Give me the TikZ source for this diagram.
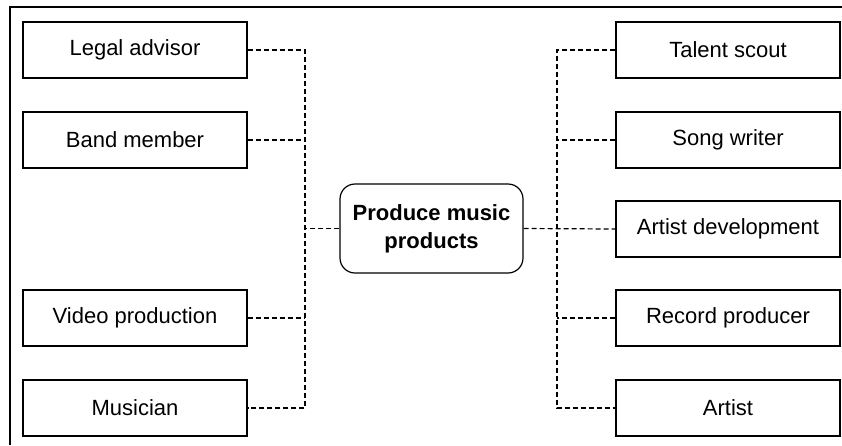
\documentclass[tikz,border=0pt]{standalone}
\usepackage{fontspec}
\setmainfont{Liberation Sans}
\tikzset{
  role/.style={draw,line width=1.2pt,minimum width=224pt,minimum height=56pt,
    font=\fontsize{22}{26}\selectfont},
  hub/.style={draw,line width=1.2pt,rounded corners=15pt,minimum width=183pt,
    minimum height=89pt,align=center,font=\fontsize{22}{28}\selectfont\bfseries},
  link/.style={line width=1.2pt,dash pattern=on 5pt off 3pt}
}
\begin{document}
\begin{tikzpicture}[x=1pt,y=-1pt]
\useasboundingbox (0,0) rectangle (842,445);
\draw[line width=1.4pt] (10,445) -- (10,7) -- (842,7);
\foreach \n/\y/\t in {legal/50/Legal advisor,band/140/Band member,
  video/318/Video production,musician/408/Musician}
{
  \node[role] (\n) at (135,\y) {\t};
}
\foreach \n/\y/\t in {talent/50/Talent scout,song/140/Song writer,
  develop/229/Artist development,record/318/Record producer,artist/408/Artist}
{
  \node[role] (\n) at (728,\y) {\t};
}
\node[hub] (hub) at (431.5,228.5) {Produce music\\products};
\coordinate (ltop) at (305,50);
\coordinate (lbot) at (305,408);
\coordinate (rtop) at (557,50);
\coordinate (rbot) at (557,408);
\draw[link] (legal.east) -- (ltop) -- (lbot) -- (musician.east);
\draw[link] (band.east) -- (band.east -| ltop);
\draw[link] (video.east) -- (video.east -| ltop);
\draw[link] (hub.west) -- (hub.west -| ltop);
\draw[link] (talent.west) -- (rtop) -- (rbot) -- (artist.west);
\draw[link] (song.west) -- (song.west -| rtop);
\draw[link] (record.west) -- (record.west -| rtop);
\draw[link] (hub.east) -- (develop.west);
\end{tikzpicture}
\end{document}
